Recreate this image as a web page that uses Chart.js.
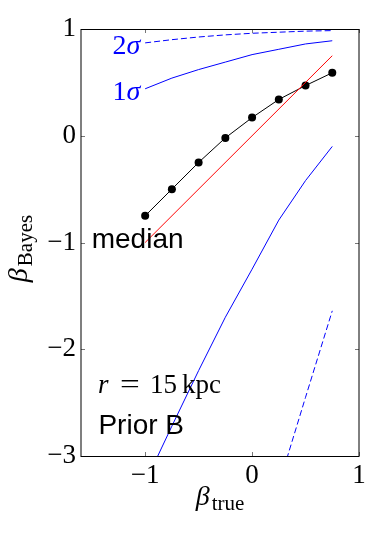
<!DOCTYPE html>
<html>
<head>
<meta charset="utf-8">
<script src="https://cdn.jsdelivr.net/npm/chart.js@4/dist/chart.umd.min.js"></script>
<style>
  body { margin: 0; background: #fff; }
  canvas { display: block; }
</style>
</head>
<body>
<canvas id="chart" width="374" height="534"></canvas>
<script>
// beta_true grid of the simulations
const betaTrue = [-1, -0.75, -0.5, -0.25, 0, 0.25, 0.5, 0.75];
// median of beta_Bayes
const medianVals = [-0.75, -0.5, -0.25, -0.02, 0.17, 0.34, 0.47, 0.59];
// 1 sigma and 2 sigma envelopes
const oneSigmaHi = [0.44, 0.54, 0.62, 0.69, 0.76, 0.81, 0.86, 0.89];
const oneSigmaLo = [-3.25, -2.72, -2.2, -1.70, -1.25, -0.79, -0.42, -0.10];
const twoSigmaHi = [0.87, 0.90, 0.925, 0.945, 0.96, 0.97, 0.98, 0.985];
const twoSigmaLo = [null, null, null, null, null, -3.27, -2.45, -1.64];
// one-to-one line
const identityX = [-1, 0.75];

const xTicks = [-1, 0, 1];
const yTicks = [-3, -2, -1, 0, 1];

const serif = '"Liberation Serif", "DejaVu Serif", serif';
const sans = '"Liberation Sans", Arial, sans-serif';
const blue = '#0000ff';

function pts(ys) {
    return betaTrue.map((x, i) => ({ x: x, y: ys[i] }));
}

function fmt(v) {
    return v < 0 ? '\u2212' + Math.abs(v) : String(v);
}

// frame, inward ticks, labels and axis titles
const decorations = {
    id: 'decorations',
    afterDatasetsDraw(chart) {
        const ctx = chart.ctx;
        const area = chart.chartArea;
        const xs = chart.scales.x;
        const ys = chart.scales.y;
        ctx.save();

        // ticks on all four sides
        ctx.strokeStyle = '#777';
        ctx.lineWidth = 1;
        ctx.beginPath();
        xTicks.forEach(v => {
            const px = Math.round(xs.getPixelForValue(v)) + 0.5;
            ctx.moveTo(px, area.bottom); ctx.lineTo(px, area.bottom - 4);
            ctx.moveTo(px, area.top); ctx.lineTo(px, area.top + 4);
        });
        yTicks.forEach(v => {
            const py = Math.round(ys.getPixelForValue(v)) + 0.5;
            ctx.moveTo(area.left, py); ctx.lineTo(area.left + 4, py);
            ctx.moveTo(area.right, py); ctx.lineTo(area.right - 4, py);
        });
        ctx.stroke();

        // frame
        ctx.strokeStyle = '#000';
        ctx.strokeRect(area.left, area.top + 0.5, area.right - area.left, area.bottom - area.top);

        // sigma labels
        ctx.fillStyle = blue;
        ctx.textBaseline = 'alphabetic';
        const sigmaLabel = (num, yv) => {
            const right = xs.getPixelForValue(-1.045);
            const y = ys.getPixelForValue(yv);
            ctx.font = '28px ' + serif;
            const w1 = ctx.measureText(num).width;
            ctx.font = 'italic 28px ' + serif;
            const w2 = ctx.measureText('\u03c3').width;
            ctx.font = '28px ' + serif;
            ctx.fillText(num, right - w1 - w2, y);
            ctx.font = 'italic 28px ' + serif;
            ctx.fillText('\u03c3', right - w2, y);
        };
        sigmaLabel('2', 0.763);
        sigmaLabel('1', 0.335);

        // median
        ctx.fillStyle = '#000';
        ctx.font = '28px ' + sans;
        ctx.fillText('median', xs.getPixelForValue(-1.5), ys.getPixelForValue(-1.052));

        // r = 15 kpc
        const rx = xs.getPixelForValue(-1.44);
        const ry = ys.getPixelForValue(-2.407);
        ctx.font = 'italic 27px ' + serif;
        ctx.fillText('r', rx, ry);
        ctx.font = '27px ' + serif;
        ctx.save();
        ctx.translate(rx + 22, ry);
        ctx.scale(1.3, 1);
        ctx.fillText('=', 0, 0);
        ctx.restore();
        ctx.fillText('15', rx + 52, ry);
        ctx.fillText('kpc', rx + 84, ry);

        // Prior B
        ctx.font = '28px ' + sans;
        ctx.fillText('Prior B', xs.getPixelForValue(-1.437), ys.getPixelForValue(-2.79));

        // x title: beta_true
        const cx = (area.left + area.right) / 2;
        ctx.font = 'italic 28px ' + serif;
        const bw = ctx.measureText('\u03b2').width;
        ctx.font = '21px ' + serif;
        const tw = ctx.measureText('true').width;
        let sx = cx - (bw + tw + 2) / 2;
        ctx.font = 'italic 28px ' + serif;
        ctx.fillText('\u03b2', sx, 505);
        ctx.font = '21px ' + serif;
        ctx.fillText('true', sx + bw + 2, 510);

        // y title: beta_Bayes (rotated)
        ctx.save();
        ctx.translate(27, (area.top + area.bottom) / 2 + 6);
        ctx.rotate(-Math.PI / 2);
        ctx.font = '21px ' + serif;
        const byw = ctx.measureText('Bayes').width;
        sx = -(bw + byw + 2) / 2;
        ctx.font = 'italic 28px ' + serif;
        ctx.fillText('\u03b2', sx, 0);
        ctx.font = '21px ' + serif;
        ctx.fillText('Bayes', sx + bw + 2, 5);
        ctx.restore();

        ctx.restore();
    }
};

new Chart(document.getElementById('chart'), {
    type: 'line',
    data: {
        datasets: [
            {
                label: 'one-to-one',
                data: identityX.map(x => ({ x: x, y: x })),
                borderColor: '#ff0000',
                borderWidth: 1,
                pointRadius: 0
            },
            {
                label: 'median',
                data: pts(medianVals),
                borderColor: '#000',
                backgroundColor: '#000',
                borderWidth: 1,
                pointRadius: 4,
                pointBorderWidth: 0
            },
            {
                label: '1 sigma upper',
                data: pts(oneSigmaHi),
                borderColor: blue,
                borderWidth: 1,
                pointRadius: 0
            },
            {
                label: '1 sigma lower',
                data: pts(oneSigmaLo),
                borderColor: blue,
                borderWidth: 1,
                pointRadius: 0
            },
            {
                label: '2 sigma upper',
                data: pts(twoSigmaHi),
                borderColor: blue,
                borderWidth: 1,
                borderDash: [6, 3],
                pointRadius: 0
            },
            {
                label: '2 sigma lower',
                data: pts(twoSigmaLo),
                borderColor: blue,
                borderWidth: 1,
                borderDash: [6, 3],
                pointRadius: 0
            }
        ]
    },
    options: {
        responsive: false,
        animation: false,
        devicePixelRatio: 1,
        layout: { padding: { top: 29, right: 15, left: 0, bottom: 0 } },
        plugins: {
            legend: { display: false },
            tooltip: { enabled: false }
        },
        scales: {
            x: {
                type: 'linear',
                min: -1.6,
                max: 1,
                afterFit: s => { s.height = 78; },
                afterBuildTicks: s => { s.ticks = xTicks.map(v => ({ value: v })); },
                grid: { display: false, drawTicks: false },
                border: { display: false },
                ticks: {
                    padding: 4,
                    color: '#000',
                    font: { family: serif, size: 27 },
                    callback: v => fmt(v)
                }
            },
            y: {
                type: 'linear',
                min: -3,
                max: 1,
                afterFit: s => { s.width = 81; },
                afterBuildTicks: s => { s.ticks = yTicks.map(v => ({ value: v })); },
                grid: { display: false, drawTicks: false },
                border: { display: false },
                ticks: {
                    padding: 5,
                    color: '#000',
                    font: { family: serif, size: 27 },
                    callback: v => fmt(v)
                }
            }
        }
    },
    plugins: [decorations]
});
</script>
</body>
</html>
